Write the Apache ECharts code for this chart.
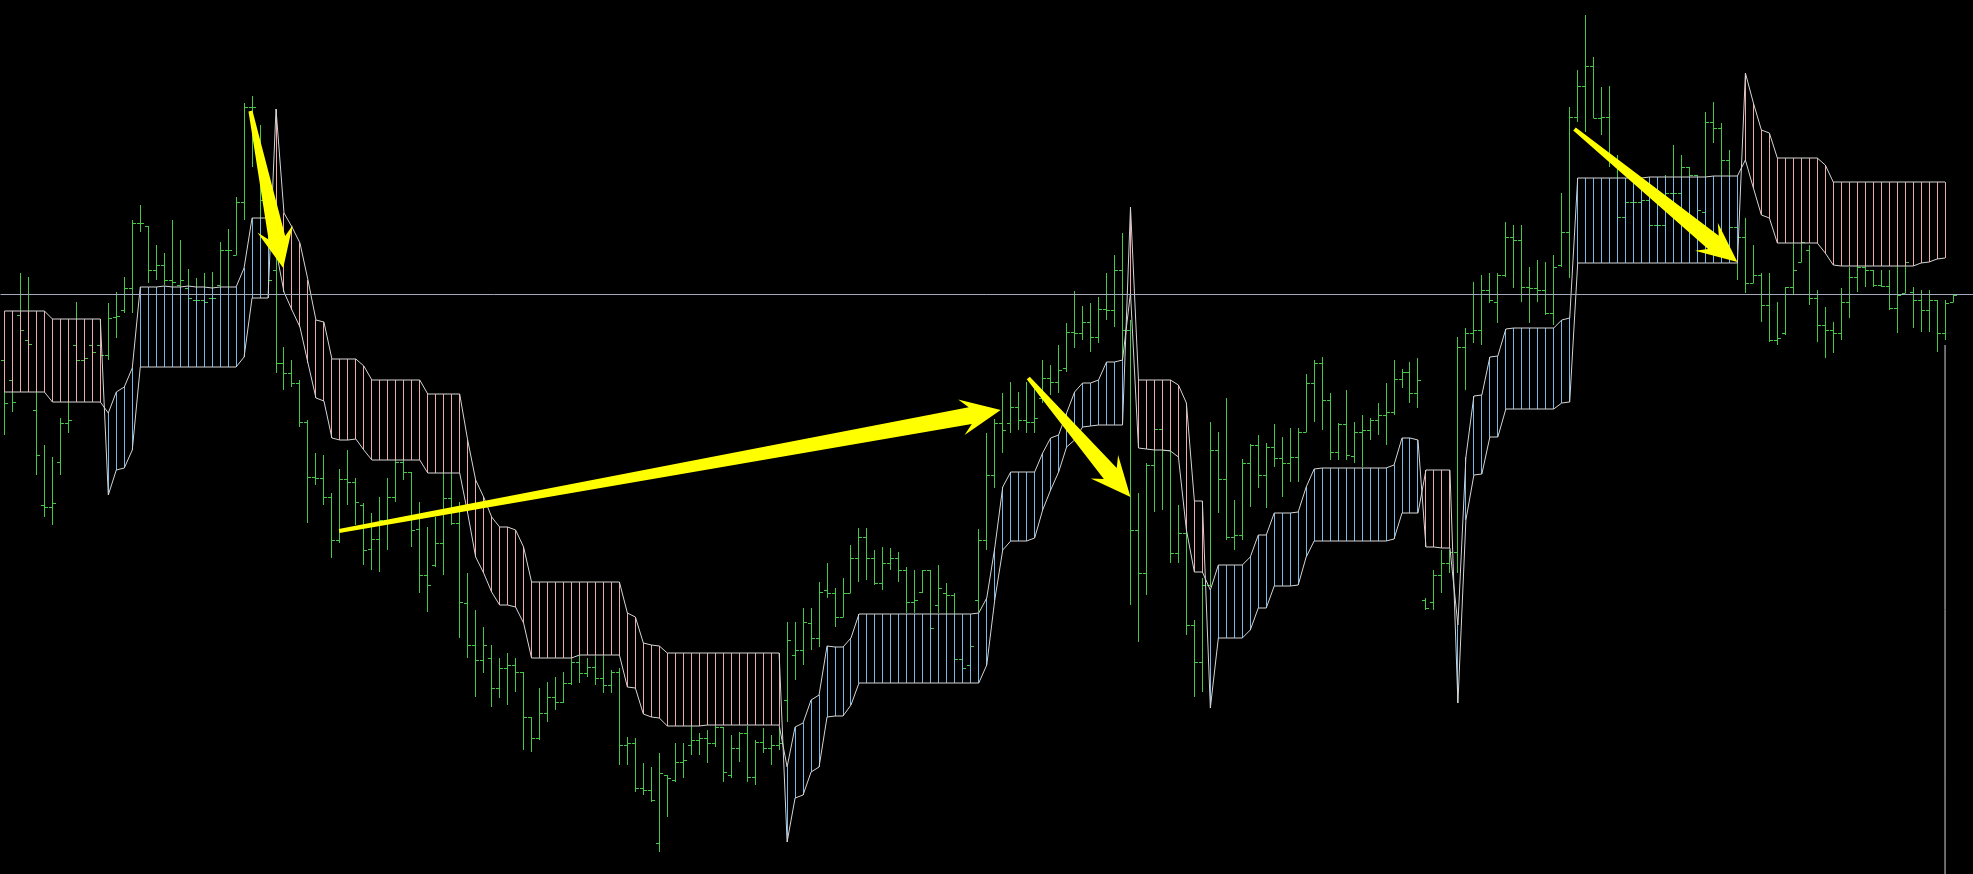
<!DOCTYPE html>
<html>
<head>
<meta charset="utf-8">
<script src="https://cdn.jsdelivr.net/npm/echarts@6/dist/echarts.min.js"></script>
<style>
html,body{margin:0;padding:0;background:#000;overflow:hidden;}
#c{width:1973px;height:874px;}
</style>
</head>
<body>
<div id="c"></div>
<script>
// ---- price bars (one per slot, slot 0..244) ----
const barOpen = [514,494,559,534,464,369,367,412,451,529,
514,529,529,519,557,564,586,651,648,604,
609,594,589,586,574,574,576,589,624,619,
672,767,734,664,604,511,501,491,452,397,
396,377,334,395,392,369,325,335,354,377,
412,402,345,299,309,331,376,351,271,229,
214,216,186,206,209,202,157,136,161,177,
172,191,212,201,207,196,189,202,129,131,
86,84,31,99,94,112,129,134,136,131,
147,99,126,141,97,132,126,129,174,219,
224,251,236,284,281,257,281,316,337,316,
291,311,316,304,272,282,304,269,281,279,
215,209,274,334,399,451,451,467,454,452,
476,496,492,506,542,541,552,537,565,564,
604,544,344,301,409,445,424,321,341,249,
212,289,424,395,337,339,411,429,399,427,
416,411,417,442,491,511,474,422,450,418,
442,444,454,459,462,495,502,481,274,272,
299,311,322,527,541,544,584,572,599,637,
634,587,586,584,561,609,642,757,788,808,
756,757,714,657,672,672,674,649,649,681,
681,707,699,662,752,746,714,647,637,591,
599,569,534,541,587,612,624,576,549,544,
541,572,597,607,604,589,588,566,581,582,
574,564,574,541,572];
const barClose = [471,472,544,530,419,367,371,451,454,514,
516,522,519,556,558,586,651,651,604,609,
594,592,594,576,574,572,576,624,624,672,
767,767,674,594,511,501,491,452,397,396,
377,334,395,392,372,324,335,354,377,412,
402,344,299,289,331,376,351,272,229,214,
229,186,206,209,202,157,136,161,177,172,
191,212,201,207,196,189,202,129,131,86,
84,74,101,96,112,114,134,136,131,147,
102,126,141,97,132,126,129,131,234,224,
252,236,282,281,257,281,316,337,316,291,
311,316,304,272,274,304,246,286,279,215,
206,228,334,399,451,444,467,454,452,456,
496,492,504,542,541,552,537,565,564,604,
544,344,301,409,445,424,321,341,249,212,
289,424,395,337,339,411,429,399,427,416,
411,417,442,491,511,474,422,450,419,442,
444,454,459,462,495,502,481,494,266,299,
311,322,527,541,544,584,574,599,637,634,
587,586,584,561,607,642,757,788,808,756,
757,714,657,672,672,674,649,649,681,681,
707,699,664,752,746,714,647,637,591,599,
569,534,536,587,604,632,576,549,544,541,
572,597,607,604,589,588,566,579,612,574,
564,574,541,571,579];
const barLow = [439,462,494,519,399,357,349,399,441,504,
494,504,512,514,536,561,561,642,591,594,
589,586,581,574,572,572,572,587,586,619,
654,707,648,578,501,484,487,447,351,389,
369,316,331,369,349,309,304,302,324,372,
394,327,281,262,307,299,349,236,216,177,
201,167,176,169,182,124,122,134,152,164,
171,189,191,197,189,181,181,109,109,82,
79,72,22,57,92,96,119,119,111,127,
92,96,112,92,89,121,109,124,152,194,
209,224,227,276,247,257,281,292,294,289,
284,304,292,261,261,281,245,261,244,211,
204,206,262,324,386,421,441,444,441,441,
471,479,481,502,526,534,522,531,554,547,
507,269,232,279,362,364,311,311,239,177,
182,287,361,334,324,334,367,386,366,407,
377,392,392,442,452,444,414,414,414,411,
407,434,439,429,459,486,471,466,264,264,
281,301,301,484,531,529,571,551,597,586,
572,551,572,559,549,607,596,752,742,756,
739,707,634,639,644,639,629,634,639,659,
674,659,634,654,731,674,644,594,581,591,
552,532,529,539,579,612,569,532,516,521,
534,556,582,587,587,587,564,541,581,546,
542,542,522,534,572];
const barHigh = [524,534,601,597,482,429,417,456,472,572,
554,554,539,571,582,597,654,669,648,629,
621,654,634,605,596,601,602,632,645,677,
771,778,749,684,654,527,514,494,454,421,
419,381,405,424,396,371,361,377,396,414,
429,402,372,347,357,401,401,372,301,264,
247,229,216,221,216,202,157,186,192,197,
202,216,219,216,219,219,204,206,137,136,
111,107,121,99,131,131,148,141,144,149,
147,139,142,148,134,146,139,146,252,252,
266,266,292,311,286,296,329,346,346,324,
327,326,322,307,304,304,304,309,291,281,
236,237,345,441,455,481,492,482,492,487,
514,509,529,551,583,568,571,577,601,619,
641,554,381,411,449,449,429,369,349,254,
296,452,442,476,374,415,430,439,431,450,
437,446,446,500,514,517,481,451,484,452,
459,456,471,491,514,505,512,516,276,304,
324,324,537,546,592,599,601,601,652,649,
649,607,614,612,619,681,767,804,859,817,
787,788,719,694,689,689,684,679,699,729,
719,707,699,762,772,751,724,657,656,629,
601,601,572,587,634,634,629,584,567,552,
586,607,611,611,604,604,604,611,614,587,
584,584,574,574,579];

// ---- cloud spans (slot 0..243) ----
const spanA = [482,482,482,482,482,482,472,472,472,472,
472,472,472,461,482,487,506,587,587,587,
588,587,587,588,587,587,586,587,587,587,
606,656,656,656,624,582,564,547,511,476,
473,436,434,434,435,424,414,414,414,414,
414,414,414,401,401,401,401,401,361,317,
301,282,269,269,267,251,216,216,216,216,
216,216,219,219,219,219,219,219,187,186,
160,157,156,148,148,148,148,148,149,149,
149,149,149,149,149,149,149,149,107,147,
151,174,179,228,227,227,236,260,260,260,
260,260,260,260,260,260,260,260,260,260,
260,260,261,276,326,387,402,402,402,402,
421,436,439,461,482,491,491,494,512,512,
514,581,426,425,424,424,423,417,344,302,
302,284,309,309,309,309,317,339,339,361,
361,361,362,387,405,406,406,406,406,406,
406,406,406,406,409,436,436,434,327,327,
326,326,249,417,478,479,517,518,545,546,
546,546,546,546,546,554,556,696,696,696,
696,696,696,696,696,696,697,697,697,697,
697,697,697,697,698,698,698,698,714,686,
659,656,631,631,631,631,631,631,621,609,
608,608,608,608,608,608,608,608,608,608,
611,612,615,616];
const spanB = [563,563,563,563,563,563,555,555,555,555,
555,555,555,379,404,406,424,507,507,507,
507,507,507,507,507,507,507,507,507,507,
517,576,576,576,765,661,647,631,594,554,
552,515,515,515,515,508,494,494,494,494,
494,494,494,480,480,480,480,480,434,394,
377,357,347,347,344,327,292,292,292,292,
292,292,292,292,292,292,292,292,261,257,
231,229,228,221,221,221,221,221,221,221,
221,221,221,221,221,221,221,221,32,76,
79,102,107,157,158,158,169,191,191,191,
191,191,191,191,191,191,191,191,191,191,
191,191,191,209,274,324,333,333,333,336,
364,384,402,427,434,447,448,449,449,449,
449,667,494,494,494,494,494,489,471,373,
373,166,236,236,236,236,244,266,266,288,
288,288,289,317,333,333,333,333,333,333,
333,333,333,333,335,361,361,361,404,404,
404,404,171,354,399,400,437,437,465,465,
465,465,465,465,465,471,472,611,611,611,
611,611,611,611,611,611,611,611,611,611,
611,611,611,611,611,611,611,611,801,771,
744,741,716,716,716,716,716,716,709,692,
692,692,692,692,692,692,692,692,692,692,
692,692,692,692];

// ---- other annotations ----
const levelLine = 579.5;                 // horizontal price line
const dropSlot = 243, dropFrom = 529, dropTo = 0;  // vertical line at the right end
const arrowTails = [[30.8, 763], [41.9, 343], [128.2, 496], [196.6, 745]];
const arrowTips  = [[34.9, 606], [124.75, 464], [141.0, 377], [217.0, 612]];

const SLOTS = 247;
const GREEN = '#46c846', PINK = '#eeaaa6', BLUE = '#78b8e6', LINE = '#d4d4d4', LEVEL = '#a2abbc';

const slotNames = Array.from({length: SLOTS}, (_, i) => String(i));
const barData = barOpen.map((o, i) => [i, o, barClose[i], barLow[i], barHigh[i]]);
const cloudData = spanA.map((a, i) => [i, a, spanB[i]]);
const arrowData = arrowTails.map((t, i) => [t[0], t[1], arrowTips[i][0], arrowTips[i][1]]);

const chart = echarts.init(document.getElementById('c'), null, {renderer: 'canvas', width: 1973, height: 874});

function renderBar(params, api) {
  const i = api.value(0);
  const pO = api.coord([i, api.value(1)]);
  const pC = api.coord([i, api.value(2)]);
  const pL = api.coord([i, api.value(3)]);
  const pH = api.coord([i, api.value(4)]);
  const x = Math.floor(pO[0]) + 0.5;
  const yo = Math.round(pO[1]) + 0.5, yc = Math.round(pC[1]) + 0.5;
  const st = {stroke: GREEN, lineWidth: 1};
  return {type: 'group', children: [
    {type: 'line', shape: {x1: x, y1: Math.round(pH[1]), x2: x, y2: Math.round(pL[1])}, style: st},
    {type: 'line', shape: {x1: x - 3.5, y1: yo, x2: x, y2: yo}, style: st},
    {type: 'line', shape: {x1: x, y1: yc, x2: x + 3.5, y2: yc}, style: st}
  ]};
}

function renderStripe(params, api) {
  const i = api.value(0);
  const a = api.value(1), b = api.value(2);
  const pA = api.coord([i, a]);
  const pB = api.coord([i, b]);
  const x = Math.floor(pA[0]) + 0.5;
  return {type: 'line', shape: {x1: x, y1: pA[1], x2: x, y2: pB[1]},
          style: {stroke: a > b ? BLUE : PINK, lineWidth: 1}};
}

function renderArrow(params, api) {
  const p0 = api.coord([api.value(0), api.value(1)]);
  const p1 = api.coord([api.value(2), api.value(3)]);
  const dx = p1[0] - p0[0], dy = p1[1] - p0[1];
  const len = Math.sqrt(dx * dx + dy * dy);
  const ux = dx / len, uy = dy / len, nx = -uy, ny = ux;
  const tailW = 2, shaftW = 8.5, headW = 18, headLen = 40, neck = 31;
  const nk = [p1[0] - ux * neck, p1[1] - uy * neck];
  const bs = [p1[0] - ux * headLen, p1[1] - uy * headLen];
  const pts = [
    [p0[0] + nx * tailW, p0[1] + ny * tailW],
    [nk[0] + nx * shaftW, nk[1] + ny * shaftW],
    [bs[0] + nx * headW, bs[1] + ny * headW],
    [p1[0], p1[1]],
    [bs[0] - nx * headW, bs[1] - ny * headW],
    [nk[0] - nx * shaftW, nk[1] - ny * shaftW],
    [p0[0] - nx * tailW, p0[1] - ny * tailW]
  ];
  return {type: 'polygon', shape: {points: pts}, style: {fill: '#ffff00'}};
}

chart.setOption({
  backgroundColor: '#000000',
  animation: false,
  grid: {left: 0.5, top: 0, width: SLOTS * 8, height: 874},
  xAxis: [
    {type: 'category', data: slotNames, boundaryGap: true, show: false},
    {type: 'value', min: -0.5, max: SLOTS - 0.5, show: false}
  ],
  yAxis: {type: 'value', min: 0, max: 874, show: false, splitLine: {show: false}},
  series: [
    {
      type: 'line', xAxisIndex: 1, data: [[dropSlot, dropFrom], [dropSlot, dropTo]],
      symbol: 'none', lineStyle: {color: LINE, width: 1}, z: 1, silent: true,
      markLine: {silent: true, symbol: 'none', label: {show: false},
        lineStyle: {color: LEVEL, width: 1, type: 'solid'}, data: [{yAxis: levelLine}]}
    },
    {type: 'custom', renderItem: renderBar, data: barData, encode: {x: 0, y: [1, 2, 3, 4]}, z: 2, silent: true},
    {type: 'custom', renderItem: renderStripe, data: cloudData, encode: {x: 0, y: [1, 2]}, z: 3, silent: true},
    {type: 'line', data: spanA, symbol: 'none', lineStyle: {color: LINE, width: 1}, z: 4, silent: true},
    {type: 'line', data: spanB, symbol: 'none', lineStyle: {color: LINE, width: 1}, z: 4, silent: true},
    {type: 'custom', xAxisIndex: 1, renderItem: renderArrow, data: arrowData, encode: {x: [0, 2], y: [1, 3]}, z: 10, silent: true, clip: false}
  ]
});
</script>
</body>
</html>
